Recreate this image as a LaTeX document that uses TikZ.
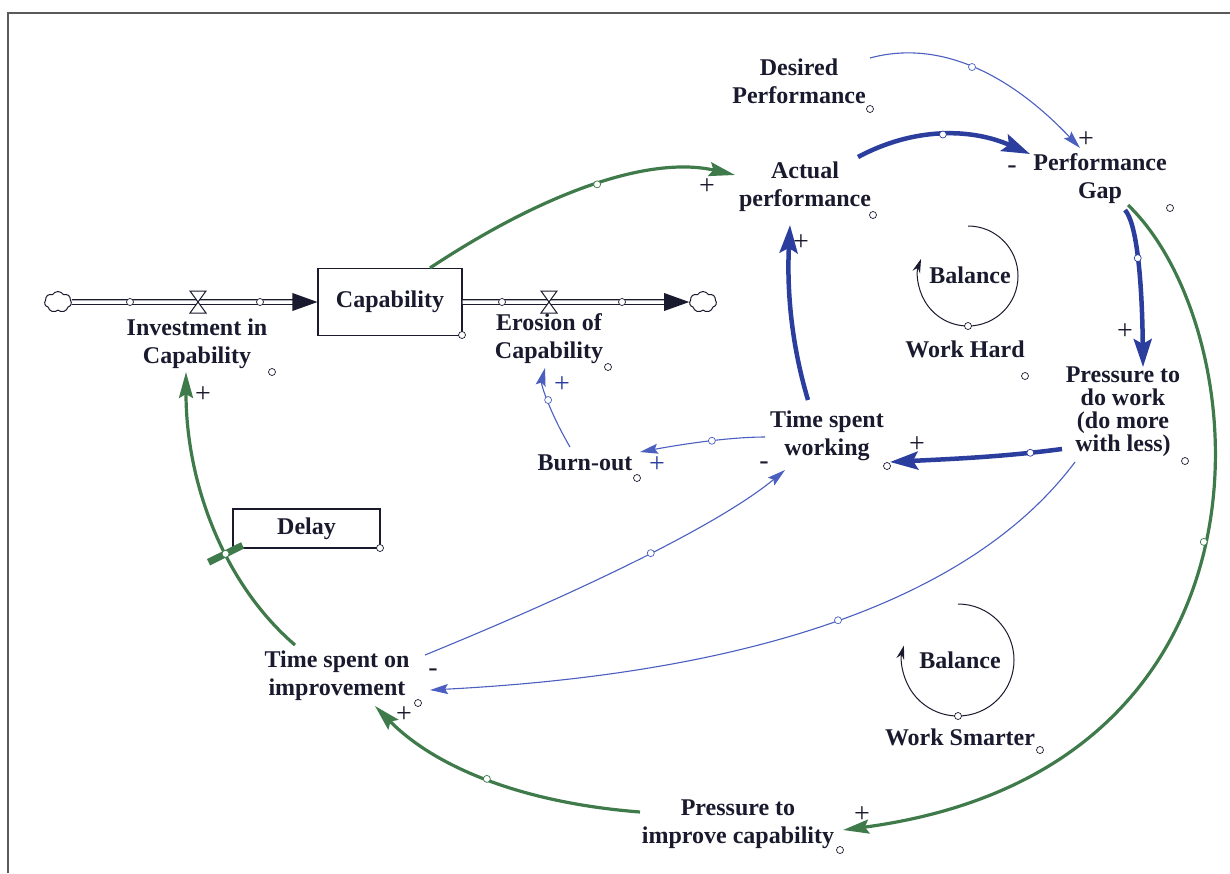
\documentclass[tikz,border=0pt]{standalone}
\usepackage{fontspec}
\setmainfont{Liberation Serif}[BoldFont={Liberation Serif Bold}]
\newfontfamily\labelserif{Liberation Serif}[BoldFont={Liberation Serif Bold}]
\usetikzlibrary{arrows.meta,shapes.symbols}
\definecolor{ink}{HTML}{1A1A2E}
\definecolor{linkblue}{HTML}{4A5FC0}
\definecolor{heavyblue}{HTML}{2B3E9E}
\definecolor{linkgreen}{HTML}{3F7A4A}
\definecolor{framegray}{HTML}{5A5A5A}
\newcommand\lblfont{\labelserif\fontsize{24}{28}\selectfont\bfseries}
\newcommand\tightfont{\labelserif\fontsize{24}{23}\selectfont\bfseries}
\newcommand\signfont{\labelserif\fontsize{28}{28}\selectfont}
\begin{document}
\begin{tikzpicture}[x=1pt,y=-1pt,
  lbl/.style={font=\lblfont, text=ink, align=center, inner sep=0pt},
  stockbox/.style={draw=ink, line width=1.1pt, fill=white, font=\lblfont, text=ink, inner sep=0pt},
  thinlink/.style={draw=linkblue, line width=1.1pt, -{Stealth[length=18pt,width=10pt,inset=3pt]}},
  heavylink/.style={draw=heavyblue, line width=4.5pt, -{Stealth[length=28pt,width=18pt,inset=5pt]}},
  greenlink/.style={draw=linkgreen, line width=3.2pt, -{Stealth[length=26pt,width=14pt,inset=4pt]}},
  handle/.style={circle, draw=ink, fill=white, line width=0.7pt, minimum size=7pt, inner sep=0pt},
  pipe/.style={draw=ink, double=white, double distance=3.5pt, line width=1.1pt},
  valveshape/.style={fill=white, draw=ink, line width=1pt},
  cloudnode/.style={cloud, cloud puffs=7, cloud puff arc=120, aspect=1.4, draw=ink, fill=white,
    line width=1pt, minimum width=27pt, minimum height=21pt, inner sep=0pt},
  loopline/.style={draw=ink, line width=1pt, -{Stealth[length=14pt,width=8pt]}},
  sgn/.style={font=\signfont, text=ink, inner sep=0pt},
  delaymark/.style={fill=linkgreen, minimum width=7pt, minimum height=38pt, inner sep=0pt}]

\useasboundingbox (0,0) rectangle (1230,873);
\fill[white] (0,0) rectangle (1230,873);
\draw[framegray, line width=1.8pt] (8,873) -- (8,13) -- (1230,13);

% ---- variables ----
\node[lbl] (inv) at (197,344) {Investment in\\Capability};
\node[stockbox, minimum width=144pt, minimum height=67pt] (cap) at (390,302) {Capability};
\node[lbl] (ero) at (549,339) {Erosion of\\Capability};
\node[lbl] (des) at (799,81) {Desired\\Performance};
\node[lbl] (act) at (805,187) {Actual\\performance};
\node[lbl] (gap) at (1100,179) {Performance\\Gap};
\node[lbl, font=\tightfont] (pdw) at (1123,412) {Pressure to\\do work\\(do more\\with less)};
\node[lbl] (tsw) at (827,436) {Time spent\\working};
\node[lbl] (burn) at (585,463) {Burn-out};
\node[stockbox, minimum width=147pt, minimum height=39pt] (delay) at (306.5,528.5) {Delay};
\node[lbl] (tsi) at (337,676) {Time spent on\\improvement};
\node[lbl] (pic) at (738,824) {Pressure to\\improve capability};
\node[lbl] (bal1) at (970,275) {Balance};
\node[lbl] (wh) at (965,349) {Work Hard};
\node[lbl] (bal2) at (960,660) {Balance};
\node[lbl] (ws) at (960,737) {Work Smarter};

% ---- stock and flows ----
\node[cloudnode] (srcL) at (58,302) {};
\node[cloudnode] (sinkR) at (703,302) {};
\coordinate (vIn) at (198,302);
\coordinate (vOut) at (549,302);

\draw[pipe, shorten >=22pt] (srcL.east) -- (cap.west);
\fill[ink] (cap.west) -- ++(-25,-9) -- ++(0,18) -- cycle;
\draw[pipe, shorten >=22pt] (cap.east) -- (sinkR.west);
\fill[ink] (sinkR.west) -- ++(-25,-9) -- ++(0,18) -- cycle;

\path[valveshape] (vIn) ++(-8,-11) -- ++(16,0) -- ++(-16,22) -- ++(16,0) -- cycle;
\path[valveshape] (vOut) ++(-8,-11) -- ++(16,0) -- ++(-16,22) -- ++(16,0) -- cycle;

\foreach \px in {130,260,502,622} \node[handle] at (\px,302) {};

% ---- causal links ----
\draw[thinlink] ([shift={(71,-23)}]des.center) .. controls +(66,-18) and +(-74,-78)
  .. ([shift={(-20,-31)}]gap.center) node[handle, draw=linkblue, pos=0.5] {};
\draw[heavylink] ([shift={(53,-30)}]act.center) .. controls +(56,-30) and +(-59,-26)
  .. ([shift={(-70,-25)}]gap.center) node[handle, draw=heavyblue, pos=0.5] {};
\draw[heavylink] ([shift={(25,31)}]gap.center) .. controls +(11,12) and +(-1,-93)
  .. ([shift={(20,-45)}]pdw.center) node[handle, draw=heavyblue, pos=0.5] {};
\draw[greenlink] ([shift={(28,26)}]gap.center) .. controls +(130,125) and +(452,-60)
  .. ([shift={(105,6)}]pic.center) node[handle, draw=linkgreen, pos=0.5] {};
\draw[heavylink] ([shift={(-61,37)}]pdw.center) .. controls +(-60,8) and +(60,-3)
  .. ([shift={(63,26)}]tsw.center) node[handle, draw=heavyblue, pos=0.18] {};
\draw[thinlink] ([shift={(-48,50)}]pdw.center) .. controls +(-101,135) and +(329,-17)
  .. ([shift={(93,14)}]tsi.center) node[handle, draw=linkblue, pos=0.5] {};
\draw[heavylink] ([shift={(-19,-36)}]tsw.center) .. controls +(-18,-60) and +(-3,60)
  .. ([shift={(-15,38)}]act.center);
\draw[thinlink] ([shift={(-62,1)}]tsw.center) .. controls +(-29,0) and +(54,-10)
  .. ([shift={(55,-11)}]burn.center) node[handle, draw=linkblue, pos=0.5] {};
\draw[thinlink] ([shift={(-15,-16)}]burn.center) .. controls +(-21,-36) and +(-4,16)
  .. ([shift={(-4,29)}]ero.center) node[handle, draw=linkblue, pos=0.5] {};
\draw[thinlink] ([shift={(88,-21)}]tsi.center) .. controls +(181,-74) and +(-59,49)
  .. ([shift={(-42,34)}]tsw.center) node[handle, draw=linkblue, pos=0.5] {};
\draw[greenlink] ([shift={(-98,-12)}]pic.center) .. controls +(-116,-9) and +(61,62)
  .. ([shift={(38,30)}]tsi.center) node[handle, draw=linkgreen, pos=0.5] {};
\draw[greenlink] ([shift={(-42,-31)}]tsi.center) .. controls +(-72,-62) and +(0,110)
  .. ([shift={(-11,28)}]inv.center)
  node[delaymark, sloped, pos=0.4] {} node[handle, draw=linkgreen, pos=0.4] {};
\draw[greenlink] ([shift={(40,0)}]cap.north) .. controls +(121,-80) and +(-82,-19)
  .. ([shift={(-70,-12)}]act.center) node[handle, draw=linkgreen, pos=0.5] {};

% ---- link polarities ----
\node[sgn] at (1086,140) {+};
\node[sgn] at (1012,170) {-};
\node[sgn] at (1125,332) {+};
\node[sgn] at (862,815) {+};
\node[sgn] at (917,445) {+};
\node[sgn] at (433,673) {-};
\node[sgn] at (801,243) {+};
\node[sgn, text=heavyblue] at (657,465) {+};
\node[sgn, text=heavyblue] at (562,385) {+};
\node[sgn] at (764,466) {-};
\node[sgn] at (404,715) {+};
\node[sgn] at (203,395) {+};
\node[sgn] at (707,187) {+};

% ---- loop markers ----
\draw[loopline] ([shift={(-2,-49)}]bal1.center) arc[start angle=-90, end angle=200, radius=50];
\node[handle] at ([shift={(-2,51)}]bal1.center) {};
\draw[loopline] ([shift={(-2,-56)}]bal2.center) arc[start angle=-90, end angle=195, radius=56];
\node[handle] at ([shift={(-2,56)}]bal2.center) {};

% ---- variable handles ----
\node[handle] at (272,372) {};
\node[handle] at (462,335) {};
\node[handle] at (608,367) {};
\node[handle] at (870,109) {};
\node[handle] at (873,215) {};
\node[handle] at (1170,208) {};
\node[handle] at (1185,461) {};
\node[handle] at (887,466) {};
\node[handle] at (637,478) {};
\node[handle] at (380,548) {};
\node[handle] at (418,703) {};
\node[handle] at (840,850) {};
\node[handle] at (1025,376) {};
\node[handle] at (1040,750) {};
\end{tikzpicture}
\end{document}
